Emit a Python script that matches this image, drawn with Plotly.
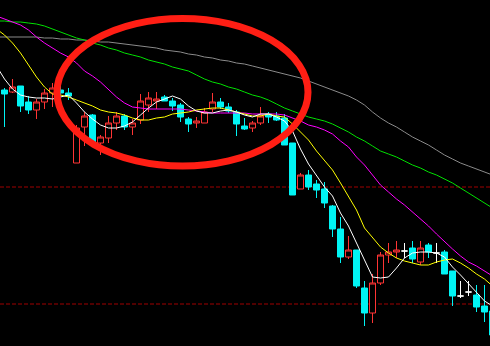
import plotly.graph_objects as go

# ---- candle data (index, open, close, high, low) ----
idx = list(range(62))
opens = [26.0, 25.8, 26.4, 24.8, 24.0, 24.8, 25.7, 26.0, 25.7, 18.7,
         22.3, 23.5, 20.7, 21.2, 22.7, 23.4, 22.3, 23.0, 24.5, 24.9,
         25.3, 24.9, 24.5, 23.1, 22.7, 22.7, 24.1, 24.8, 24.3, 23.8,
         22.4, 22.2, 22.7, 23.6, 23.4, 23.2, 20.7, 16.1, 17.5, 16.6,
         16.1, 14.4, 12.1, 9.3, 10.0, 6.2, 3.7, 6.7, 9.5, 9.8,
         9.9, 10.2, 8.8, 10.5, 9.7, 9.8, 7.9, 5.4, 5.8, 5.5,
         4.4, 3.9]
closes = [25.6, 26.3, 24.4, 24.0, 24.8, 25.7, 26.2, 25.7, 25.4, 22.2,
          23.4, 20.7, 21.3, 22.7, 23.4, 22.3, 22.7, 24.9, 25.2, 25.1,
          24.9, 24.4, 23.3, 22.6, 22.9, 23.8, 24.8, 24.3, 23.9, 22.6,
          22.1, 22.7, 23.4, 23.3, 23.0, 20.5, 15.5, 17.5, 16.3, 16.0,
          14.7, 12.1, 9.3, 10.0, 6.4, 3.7, 6.7, 9.5, 9.8, 10.0,
          9.9, 9.1, 10.2, 9.8, 9.7, 7.6, 5.4, 5.4, 5.8, 4.3,
          3.8, 1.5]
highs = [26.2, 27.1, 26.4, 25.4, 25.1, 26.1, 26.7, 26.8, 26.2, 22.5,
         23.8, 23.6, 21.5, 23.4, 23.8, 23.6, 23.1, 25.6, 25.8, 25.8,
         25.5, 25.2, 24.7, 23.3, 23.3, 24.2, 25.7, 25.2, 24.7, 24.0,
         23.2, 22.9, 24.3, 23.8, 23.8, 23.6, 20.7, 17.7, 18.0, 17.0,
         16.8, 14.5, 13.3, 11.4, 10.0, 6.9, 7.6, 9.8, 10.7, 10.9,
         10.7, 10.9, 10.9, 10.7, 10.7, 10.0, 7.9, 6.9, 6.9, 6.5,
         6.5, 4.5]
lows = [22.3, 25.7, 23.8, 23.6, 23.1, 24.1, 24.3, 25.3, 25.0, 18.7,
        20.4, 20.5, 19.5, 20.7, 22.0, 22.0, 21.5, 22.6, 23.8, 24.1,
        24.9, 23.9, 22.8, 21.8, 22.2, 22.7, 23.8, 24.1, 23.7, 21.4,
        22.0, 21.8, 22.5, 22.7, 22.9, 20.5, 15.5, 16.1, 16.0, 15.2,
        14.2, 11.3, 8.7, 9.1, 6.2, 2.4, 2.7, 6.5, 8.7, 9.2,
        9.2, 8.7, 8.5, 9.2, 8.7, 7.6, 4.4, 5.2, 5.4, 3.8,
        2.8, 1.0]

# ---- moving average lines (index -1 .. 61) ----
ma_idx = list(range(-1, 62))
ma5 = [28.4, 27.1, 26.1, 25.5, 25.3, 25.2, 25.2, 25.1, 25.3, 25.5, 24.7,
       23.8, 23.1, 22.5, 22.2, 22.2, 22.4, 22.8, 23.5, 24.2, 24.8,
       25.1, 25.4, 25.1, 24.4, 23.9, 23.7, 23.7, 23.9, 24.0, 23.8,
       23.5, 23.3, 23.6, 23.6, 23.3, 22.9, 21.9, 20.1, 18.6, 17.4,
       16.3, 15.4, 13.7, 12.4, 10.7, 9.1, 7.3, 7.2, 7.3, 8.2,
       9.2, 9.7, 9.8, 9.8, 9.7, 9.3, 8.3, 7.5, 6.6, 5.7,
       4.9, 4.4]
ma10 = [32.1, 31.5, 30.7, 29.7, 28.5, 27.3, 26.3, 25.6, 25.5, 25.3, 25.0,
        24.7, 24.4, 24.0, 23.8, 23.7, 23.5, 23.2, 23.0, 23.0, 23.2,
        23.3, 23.6, 23.7, 23.8, 24.0, 24.1, 24.2, 24.2, 24.0, 23.8,
        23.6, 23.4, 23.4, 23.6, 23.4, 23.3, 22.6, 21.8, 21.0, 19.9,
        19.0, 18.0, 16.7, 15.4, 14.0, 12.2, 11.2, 10.3, 9.7, 9.2,
        8.9, 8.7, 8.5, 8.5, 8.8, 9.0, 9.1, 8.7, 8.2, 7.6,
        7.1, 6.4]
ma20 = [33.4, 33.1, 32.8, 32.5, 32.0, 31.3, 30.7, 30.2, 29.7, 29.3, 28.7,
        27.9, 27.4, 26.8, 26.0, 25.3, 24.7, 24.3, 24.2, 24.1, 24.1,
        24.1, 24.1, 24.1, 24.0, 23.9, 23.8, 23.7, 23.7, 23.7, 23.7,
        23.7, 23.6, 23.6, 23.6, 23.6, 23.5, 23.2, 22.9, 22.5, 22.3,
        22.0, 21.6, 20.9, 20.3, 19.3, 18.5, 17.5, 16.5, 15.8, 15.1,
        14.5, 13.8, 13.1, 12.4, 11.6, 10.8, 10.1, 9.4, 8.8, 8.4,
        7.9, 7.4]
ma30 = [32.9, 32.9, 32.8, 32.8, 32.7, 32.6, 32.4, 32.1, 31.8, 31.5, 31.2,
        31.0, 30.7, 30.5, 30.2, 30.0, 29.7, 29.5, 29.3, 29.0, 28.8,
        28.6, 28.3, 28.1, 27.9, 27.5, 27.1, 26.8, 26.6, 26.3, 26.1,
        25.8, 25.5, 25.3, 25.0, 24.6, 24.2, 23.9, 23.6, 23.3, 23.1,
        22.9, 22.6, 22.2, 21.8, 21.3, 20.9, 20.4, 19.9, 19.6, 19.3,
        18.9, 18.5, 18.2, 17.8, 17.5, 17.1, 16.7, 16.2, 15.7, 15.2,
        14.7, 14.2]
ma60 = [31.3, 31.3, 31.3, 31.3, 31.3, 31.3, 31.2, 31.2, 31.1, 31.1, 31.0,
        31.0, 30.9, 30.8, 30.8, 30.7, 30.6, 30.5, 30.4, 30.3, 30.2,
        30.0, 29.9, 29.8, 29.6, 29.5, 29.3, 29.2, 29.0, 28.9, 28.7,
        28.6, 28.4, 28.2, 28.0, 27.8, 27.6, 27.4, 27.2, 26.9, 26.6,
        26.3, 26.0, 25.7, 25.4, 25.0, 24.5, 23.8, 23.2, 22.7, 22.3,
        21.8, 21.3, 20.9, 20.5, 20.0, 19.5, 19.1, 18.7, 18.4, 18.1,
        17.8, 17.5]

# ---- reference levels ----
levels = [16.3, 4.6]

UP = "#ff3434"
DOWN = "#00f4f4"

def subset(cond):
    sel = [k for k in range(len(idx)) if cond(opens[k], closes[k])]
    return ([idx[k] for k in sel], [opens[k] for k in sel], [highs[k] for k in sel],
            [lows[k] for k in sel], [closes[k] for k in sel])

fig = go.Figure()

for cond, lc, fc in [
    (lambda o, c: c > o, UP, "#000000"),
    (lambda o, c: c < o, DOWN, DOWN),
    (lambda o, c: c == o, "#ffffff", "#ffffff"),
]:
    x, o, h, l, c = subset(cond)
    fig.add_trace(go.Candlestick(
        x=x, open=o, high=h, low=l, close=c,
        increasing=dict(line=dict(color=lc, width=1), fillcolor=fc),
        decreasing=dict(line=dict(color=lc, width=1), fillcolor=fc),
        whiskerwidth=0, showlegend=False, hoverinfo="skip",
    ))

for vals, col in [(ma60, "#8a8a8a"), (ma30, "#00e000"), (ma20, "#ff00ff"),
                  (ma10, "#ffff00"), (ma5, "#ffffff")]:
    fig.add_trace(go.Scatter(x=ma_idx, y=vals, mode="lines",
                             line=dict(color=col, width=1),
                             showlegend=False, hoverinfo="skip"))

for lv in levels:
    fig.add_shape(type="line", xref="paper", x0=0, x1=1, yref="y", y0=lv, y1=lv,
                  line=dict(color="#a00000", width=1, dash="4px,2px"), layer="below")

# highlight ellipse
fig.add_shape(type="circle", xref="paper", yref="paper",
              x0=57 / 490, x1=308 / 490, y0=1 - 166 / 346, y1=1 - 18.5 / 346,
              line=dict(color="#ff1e14", width=7), layer="above")

fig.update_layout(
    width=490, height=346,
    margin=dict(l=0, r=0, t=0, b=0),
    paper_bgcolor="#000000", plot_bgcolor="#000000",
    boxgap=0.25, boxgroupgap=0,
    showlegend=False,
    xaxis=dict(range=[-0.5625, 60.6875], showgrid=False, zeroline=False,
               showticklabels=False, ticks="", rangeslider=dict(visible=False),
               fixedrange=True),
    yaxis=dict(range=[0.4, 35.0], showgrid=False, zeroline=False,
               showticklabels=False, ticks="", fixedrange=True),
)

fig.write_html("out.html")
